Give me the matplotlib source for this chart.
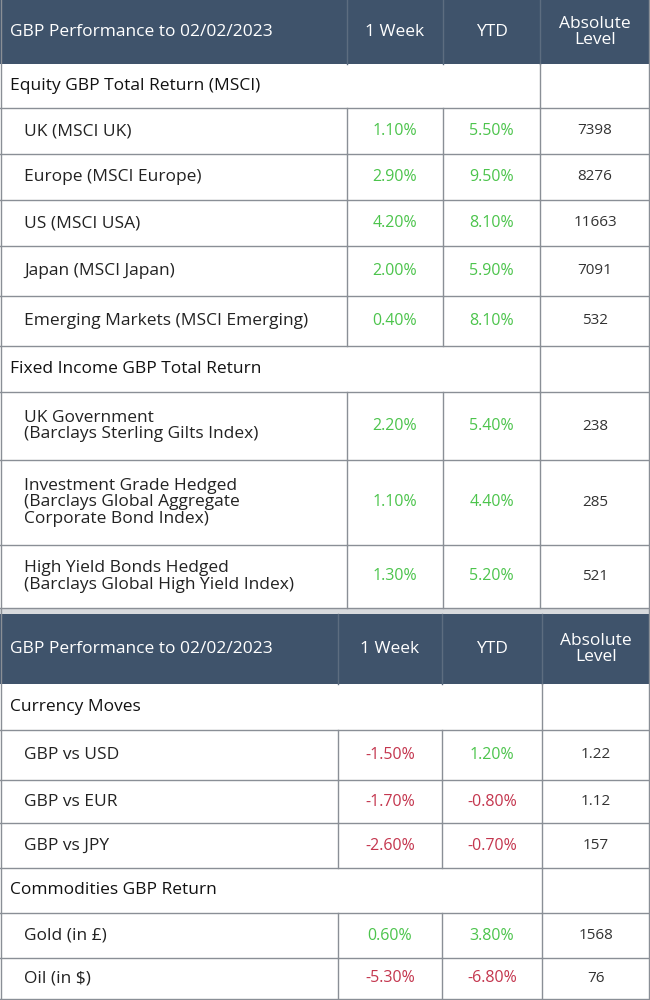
import matplotlib.pyplot as plt
from matplotlib.patches import Rectangle

# data
header = ["GBP Performance to 02/02/2023", "1 Week", "YTD", "Absolute\nLevel"]
sec1 = "Equity GBP Total Return (MSCI)"
eq_names = ["UK (MSCI UK)", "Europe (MSCI Europe)", "US (MSCI USA)", "Japan (MSCI Japan)",
            "Emerging Markets (MSCI Emerging)"]
eq_week = ["1.10%", "2.90%", "4.20%", "2.00%", "0.40%"]
eq_ytd = ["5.50%", "9.50%", "8.10%", "5.90%", "8.10%"]
eq_level = ["7398", "8276", "11663", "7091", "532"]
sec2 = "Fixed Income GBP Total Return"
fi_names = ["UK Government\n(Barclays Sterling Gilts Index)",
            "Investment Grade Hedged\n(Barclays Global Aggregate\nCorporate Bond Index)",
            "High Yield Bonds Hedged\n(Barclays Global High Yield Index)"]
fi_week = ["2.20%", "1.10%", "1.30%"]
fi_ytd = ["5.40%", "4.40%", "5.20%"]
fi_level = ["238", "285", "521"]
sec3 = "Currency Moves"
fx_names = ["GBP vs USD", "GBP vs EUR", "GBP vs JPY"]
fx_week = ["-1.50%", "-1.70%", "-2.60%"]
fx_ytd = ["1.20%", "-0.80%", "-0.70%"]
fx_level = ["1.22", "1.12", "157"]
sec4 = "Commodities GBP Return"
cm_names = ["Gold (in £)", "Oil (in $)"]
cm_week = ["0.60%", "-5.30%"]
cm_ytd = ["3.80%", "-6.80%"]
cm_level = ["1568", "76"]

HDR = "#3f536b"
GREEN = "#4cc44c"
RED = "#c4364e"
LINE = "#8a8f96"
plt.rcParams['font.family'] = ['Open Sans', 'DejaVu Sans']

fig = plt.figure(figsize=(6.5, 10), dpi=100)
ax = fig.add_axes([0, 0, 1, 1])
ax.set_xlim(0, 650)
ax.set_ylim(1000, 0)
ax.axis("off")


def col(v):
    return RED if v.startswith("-") else GREEN


def header_row(y0, y1, xs):
    edges = xs + [650]
    ax.add_patch(Rectangle((0, y0), 650, y1 - y0, color=HDR, lw=0))
    ym = (y0 + y1) / 2
    ax.text(10, ym, header[0], color="white", fontsize=12.5, va="center", ha="left")
    for i in range(3):
        cx = (edges[i] + edges[i + 1]) / 2
        ax.text(cx, ym, header[i + 1], color="white", fontsize=12.5, va="center", ha="center",
                linespacing=0.95)
        ax.plot([edges[i], edges[i]], [y0, y1], color="#5d6d80", lw=1)


def section_row(y0, y1, xs, title):
    ax.text(10, (y0 + y1) / 2, title, fontsize=12.5, va="center", color="#111111")
    ax.plot([xs[2], xs[2]], [y0, y1], color=LINE, lw=1)
    ax.plot([0, 650], [y1, y1], color=LINE, lw=1)


def data_rows(bounds, xs, names, week, ytd, level):
    for k in range(len(names)):
        y0, y1 = bounds[k], bounds[k + 1]
        ym = (y0 + y1) / 2
        ax.text(24, ym, names[k], fontsize=12.5, va="center", color="#222222", linespacing=1.05)
        ax.text((xs[0] + xs[1]) / 2, ym, week[k], fontsize=11.5, ha="center", va="center", color=col(week[k]))
        ax.text((xs[1] + xs[2]) / 2, ym, ytd[k], fontsize=11.5, ha="center", va="center", color=col(ytd[k]))
        ax.text((xs[2] + 650) / 2, ym, level[k], fontsize=11, ha="center", va="center", color="#333333")
        for x in xs:
            ax.plot([x, x], [y0, y1], color=LINE, lw=1)
        ax.plot([0, 650], [y1, y1], color=LINE, lw=1)


xs1 = [347, 443, 540]
header_row(0, 64, xs1)
section_row(64, 108, xs1, sec1)
data_rows([108, 154, 200, 246, 296, 346], xs1, eq_names, eq_week, eq_ytd, eq_level)
section_row(346, 392, xs1, sec2)
data_rows([392, 460, 545, 608], xs1, fi_names, fi_week, fi_ytd, fi_level)
ax.add_patch(Rectangle((0, 608), 650, 6, color="#d8dadd", lw=0))

xs2 = [338, 442, 542]
header_row(614, 684, xs2)
section_row(684, 730, xs2, sec3)
data_rows([730, 780, 823, 868], xs2, fx_names, fx_week, fx_ytd, fx_level)
section_row(868, 913, xs2, sec4)
data_rows([913, 958, 999], xs2, cm_names, cm_week, cm_ytd, cm_level)
ax.plot([1, 1], [0, 1000], color=LINE, lw=1)
ax.plot([649, 649], [0, 1000], color=LINE, lw=1)

fig.savefig("out.png", dpi=100, facecolor="white")
